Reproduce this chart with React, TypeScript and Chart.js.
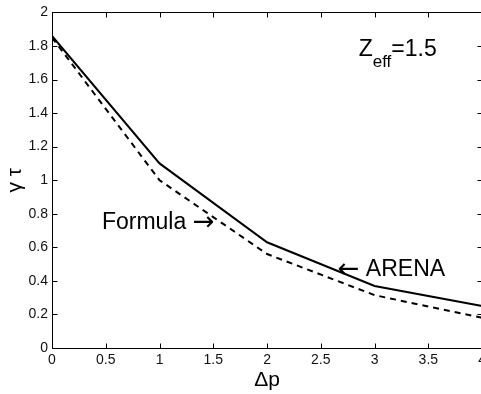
import React, { useEffect, useRef } from "react";
import { Chart, registerables } from "chart.js";

Chart.register(...registerables);

const deltaP = [0, 1, 2, 3, 4];
const arena = [1.86, 1.1, 0.63, 0.37, 0.25];
const formula = [1.85, 1.0, 0.56, 0.315, 0.18];
const xTickLabels = ["0", "0.5", "1", "1.5", "2", "2.5", "3", "3.5", "4"];
const yTickLabels = ["0", "0.2", "0.4", "0.6", "0.8", "1", "1.2", "1.4", "1.6", "1.8", "2"];

const FONT = "'Liberation Sans', Arial, Helvetica, sans-serif";
const ARROW_FONT = "'DejaVu Sans', sans-serif";

const framePlugin = {
  id: "frame",
  afterDatasetsDraw(chart: any) {
    const { ctx, chartArea: a, scales } = chart;
    const L = Math.round(a.left) + 0.5;
    const R = Math.round(a.right) + 0.5;
    const T = Math.round(a.top) + 0.5;
    const B = Math.round(a.bottom) + 0.5;
    const tl = 5;
    ctx.save();
    ctx.strokeStyle = "#000";
    ctx.lineWidth = 1;
    ctx.beginPath();
    ctx.rect(L, T, R - L, B - T);
    scales.x.ticks.forEach((t: any) => {
      const px = Math.round(scales.x.getPixelForValue(t.value)) + 0.5;
      ctx.moveTo(px, B);
      ctx.lineTo(px, B - tl);
      ctx.moveTo(px, T);
      ctx.lineTo(px, T + tl);
    });
    scales.y.ticks.forEach((t: any) => {
      const py = Math.round(scales.y.getPixelForValue(t.value)) + 0.5;
      ctx.moveTo(L, py);
      ctx.lineTo(L + tl, py);
      ctx.moveTo(R, py);
      ctx.lineTo(R - tl, py);
    });
    ctx.stroke();

    // annotations
    const X = (v: number) => scales.x.getPixelForValue(v);
    const Y = (v: number) => scales.y.getPixelForValue(v);
    ctx.fillStyle = "#000";
    ctx.textBaseline = "alphabetic";
    ctx.textAlign = "left";

    // Formula ->
    let fx = X(0.464);
    const fy = Y(0.711);
    ctx.font = `23px ${FONT}`;
    ctx.fillText("Formula ", fx, fy);
    fx += ctx.measureText("Formula ").width;
    ctx.font = `26px ${ARROW_FONT}`;
    ctx.fillText("\u2192", fx, fy + 1);

    // <- ARENA
    let ax = X(2.657);
    const ay = Y(0.429);
    ctx.font = `26px ${ARROW_FONT}`;
    ctx.fillText("\u2190", ax, ay + 1);
    ax += ctx.measureText("\u2190").width;
    ctx.font = `23px ${FONT}`;
    ctx.fillText(" ARENA", ax, ay);

    // Z_eff = 1.5
    let zx = X(2.852);
    const zy = Y(1.741);
    ctx.fillText("Z", zx, zy);
    zx += ctx.measureText("Z").width;
    ctx.font = `17px ${FONT}`;
    ctx.fillText("eff", zx, zy + 11);
    zx += ctx.measureText("eff").width;
    ctx.font = `23px ${FONT}`;
    ctx.fillText("=1.5", zx, zy);
    ctx.restore();
  },
};

export default function App() {
  const ref = useRef<HTMLCanvasElement | null>(null);

  useEffect(() => {
    if (!ref.current) return;
    const chart = new Chart(ref.current, {
      type: "line",
      data: {
        datasets: [
          {
            label: "ARENA",
            data: deltaP.map((x, i) => ({ x, y: arena[i] })),
            borderColor: "#000",
            borderWidth: 2,
            pointRadius: 0,
            fill: false,
            tension: 0,
          },
          {
            label: "Formula",
            data: deltaP.map((x, i) => ({ x, y: formula[i] })),
            borderColor: "#000",
            borderWidth: 2,
            borderDash: [6, 5],
            pointRadius: 0,
            fill: false,
            tension: 0,
          },
        ],
      },
      options: {
        animation: false,
        responsive: true,
        maintainAspectRatio: false,
        layout: { padding: { top: 9, right: 7, left: 0, bottom: 0 } },
        plugins: {
          legend: { display: false },
          tooltip: { enabled: false },
        },
        scales: {
          x: {
            type: "linear",
            min: 0,
            max: 4,
            grid: { display: false, drawTicks: false },
            border: { display: false },
            ticks: {
              stepSize: 0.5,
              padding: 4,
              color: "#111",
              font: { family: FONT, size: 14 },
              maxRotation: 0,
              autoSkip: false,
              callback: (_v: any, i: number) => xTickLabels[i],
            },
            title: {
              display: true,
              text: "\u0394p",
              color: "#000",
              font: { family: FONT, size: 21 },
              padding: { top: 0, bottom: 1.5 },
            },
            afterFit: (s: any) => {
              s.height = 46;
            },
          },
          y: {
            type: "linear",
            min: 0,
            max: 2,
            grid: { display: false, drawTicks: false },
            border: { display: false },
            ticks: {
              stepSize: 0.2,
              padding: 4,
              color: "#111",
              font: { family: FONT, size: 14 },
              autoSkip: false,
              callback: (_v: any, i: number) => yTickLabels[i],
            },
            title: {
              display: true,
              text: "\u03b3 \u03c4",
              color: "#000",
              font: { family: FONT, size: 21 },
              padding: { top: 3, bottom: 0 },
            },
            afterFit: (s: any) => {
              s.width = 52;
            },
          },
        },
      },
      plugins: [framePlugin],
    });
    return () => chart.destroy();
  }, []);

  return (
    <div
      style={{
        position: "fixed",
        left: 0,
        top: 0,
        width: 481,
        height: 394,
        overflow: "hidden",
        background: "#fff",
      }}
    >
      <div style={{ position: "relative", width: 490, height: 394 }}>
        <canvas ref={ref} />
      </div>
    </div>
  );
}
